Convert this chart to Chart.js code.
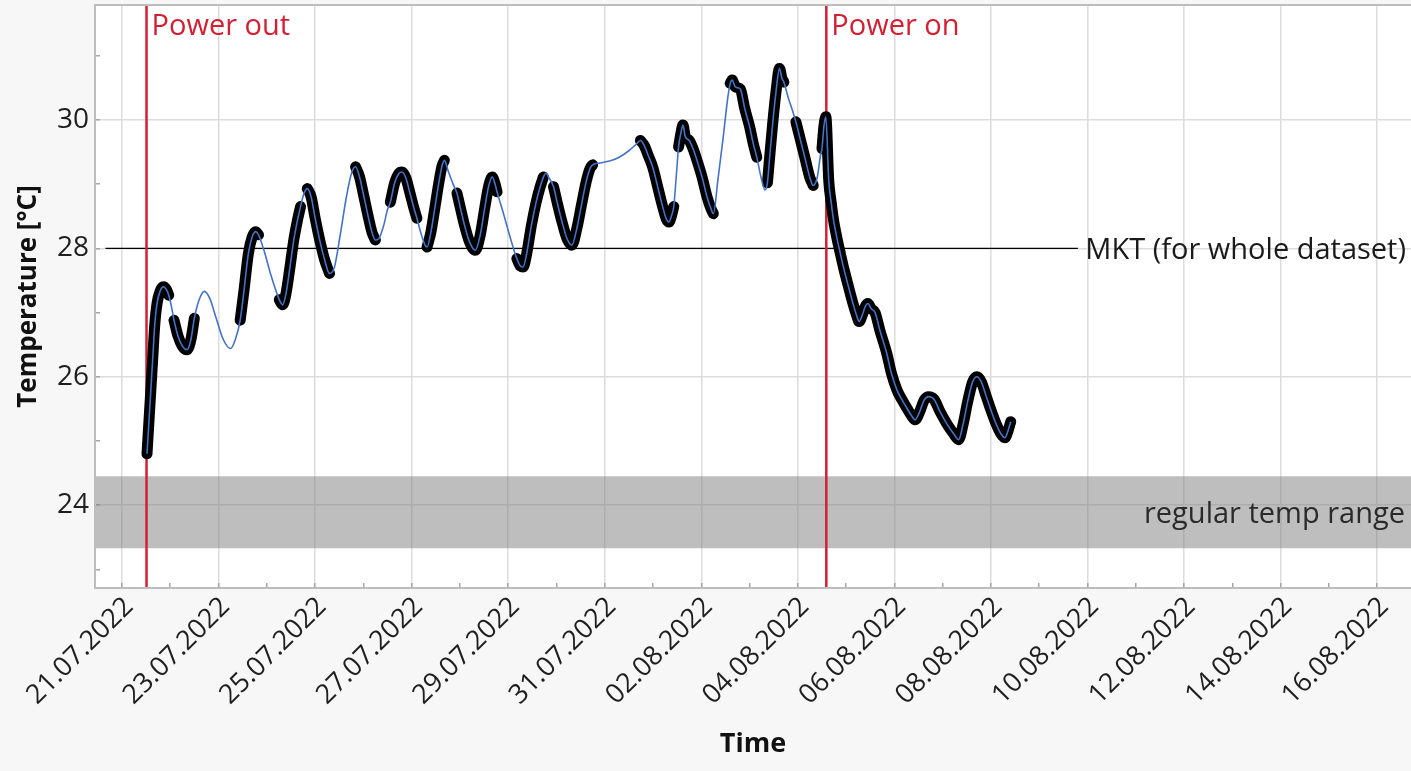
<!DOCTYPE html>
<html><head><meta charset="utf-8">
<script src="https://cdn.jsdelivr.net/npm/chart.js@4.4.0/dist/chart.umd.min.js"></script>
<style>html,body{margin:0;padding:0;background:#f7f7f7;overflow:hidden}</style>
</head><body>
<canvas id="c" width="1411" height="771"></canvas>
<script>
// x values: days since 21.07.2022 00:00
const tickDates = ['21.07.2022','23.07.2022','25.07.2022','27.07.2022','29.07.2022','31.07.2022','02.08.2022',
  '04.08.2022','06.08.2022','08.08.2022','10.08.2022','12.08.2022','14.08.2022','16.08.2022'];
const yTickValues = [24, 26, 28, 30];

const timeDays = [
  0.52,0.56,0.60,0.64,0.68,0.73,0.79,0.86,0.92,0.97,
  1.03,1.08,1.16,1.25,1.35,1.43,1.50,1.60,1.71,1.82,
  1.95,2.10,2.25,2.35,2.45,2.53,2.62,2.70,2.77,2.83,
  2.95,3.08,3.20,3.26,3.33,3.40,3.48,3.56,3.64,3.70,
  3.77,3.84,3.92,4.00,4.10,4.20,4.30,4.40,4.52,4.65,
  4.76,4.84,4.92,5.00,5.10,5.18,5.25,5.32,5.42,5.50,
  5.56,5.65,5.74,5.80,5.88,5.97,6.05,6.11,6.20,6.28,
  6.32,6.40,6.48,6.56,6.63,6.68,6.76,6.86,6.94,7.02,
  7.10,7.20,7.32,7.42,7.52,7.60,7.67,7.73,7.77,7.90,
  8.05,8.18,8.26,8.31,8.38,8.48,8.58,8.66,8.73,8.78,
  8.86,8.94,9.02,9.12,9.22,9.32,9.42,9.52,9.62,9.70,
  9.75,9.90,10.10,10.30,10.50,10.65,10.74,10.82,10.90,11.00,
  11.10,11.20,11.28,11.33,11.38,11.43,11.48,11.53,11.58,11.62,
  11.67,11.75,11.83,11.92,12.02,12.12,12.20,12.25,12.35,12.45,
  12.55,12.60,12.64,12.70,12.76,12.81,12.90,13.00,13.08,13.15,
  13.24,13.32,13.37,13.42,13.48,13.55,13.62,13.67,13.71,13.80,
  13.90,13.96,14.05,14.15,14.25,14.32,14.40,14.47,14.50,14.54,
  14.58,14.64,14.69,14.74,14.81,14.88,14.96,15.05,15.15,15.22,
  15.27,15.33,15.40,15.45,15.52,15.60,15.70,15.84,15.94,16.05,
  16.15,16.26,16.35,16.43,16.52,16.62,16.71,16.82,16.95,17.10,
  17.22,17.33,17.42,17.52,17.62,17.71,17.80,17.90,18.00,18.10,
  18.20,18.29,18.35,18.41
];
const tempC = [
  24.80,25.30,25.80,26.30,26.80,27.15,27.33,27.40,27.36,27.27,
  27.08,26.88,26.64,26.48,26.42,26.58,26.91,27.20,27.33,27.22,
  26.92,26.58,26.44,26.58,26.88,27.35,27.92,28.18,28.26,28.21,
  27.95,27.60,27.32,27.20,27.12,27.30,27.70,28.13,28.45,28.65,
  28.85,28.93,28.80,28.48,28.12,27.82,27.61,27.70,28.20,28.80,
  29.18,29.27,29.12,28.85,28.50,28.25,28.13,28.15,28.35,28.60,
  28.72,29.02,29.17,29.19,29.10,28.85,28.62,28.47,28.22,28.05,
  28.02,28.25,28.62,29.00,29.28,29.37,29.20,29.00,28.86,28.60,
  28.35,28.10,27.97,28.20,28.65,28.98,29.11,29.00,28.88,28.55,
  28.15,27.84,27.72,27.71,27.90,28.35,28.72,28.95,29.11,29.17,
  29.08,28.96,28.70,28.40,28.15,28.05,28.30,28.68,29.05,29.25,
  29.30,29.33,29.36,29.42,29.52,29.62,29.68,29.60,29.45,29.25,
  28.95,28.65,28.45,28.41,28.50,28.65,29.10,29.58,29.80,29.92,
  29.74,29.68,29.55,29.35,29.10,28.80,28.62,28.54,29.10,29.70,
  30.35,30.57,30.62,30.52,30.50,30.48,30.18,29.90,29.62,29.42,
  29.10,28.91,29.02,29.45,29.95,30.45,30.80,30.65,30.59,30.35,
  30.12,29.97,29.70,29.40,29.10,28.98,29.10,29.45,29.55,29.90,
  30.05,29.06,28.72,28.44,28.16,27.92,27.66,27.40,27.12,26.95,
  26.86,26.95,27.10,27.14,27.06,27.00,26.72,26.37,26.05,25.80,
  25.65,25.51,25.40,25.33,25.45,25.64,25.69,25.65,25.45,25.25,
  25.12,25.02,25.25,25.62,25.92,26.00,25.92,25.70,25.48,25.28,
  25.12,25.05,25.15,25.30
];
// periods where the logger actually recorded (thick black)
const loggedSpans = [[0.52,0.97],[1.08,1.50],[2.45,2.83],[3.26,3.70],[3.84,4.30],[4.84,5.25],
  [5.56,6.11],[6.32,6.68],[6.94,7.77],[8.18,8.73],[8.94,9.75],[10.74,11.43],[11.53,12.25],
  [12.60,13.15],[13.37,13.71],[13.96,14.32],[14.50,18.41]];

const mktTemp = 28;
const mktSpan = [-0.34, 19.8];
const regularRange = [23.33, 24.45];
const powerOutDay = 0.51;
const powerOnDay = 14.59;
const xRange = [-0.557, 26.70];
const yRange = [22.71, 31.79];

const FONT = "'Open Sans', 'Noto Sans', sans-serif";

const fitPts = timeDays.map((t, i) => ({x: t, y: tempC[i]}));
const loggedPts = timeDays.map((t, i) => ({
  x: t,
  y: loggedSpans.some(s => t >= s[0] - 1e-6 && t <= s[1] + 1e-6) ? tempC[i] : null
}));

const decor = {
  id: 'decor',
  beforeDraw(chart) {
    const {ctx, chartArea: a} = chart;
    ctx.save();
    ctx.fillStyle = '#f7f7f7';
    ctx.fillRect(0, 0, chart.width, chart.height);
    ctx.fillStyle = '#ffffff';
    ctx.fillRect(a.left, a.top, a.right - a.left, a.bottom - a.top);
    ctx.restore();
  },
  afterDatasetsDraw(chart) {
    const {ctx, chartArea: a, scales: {x, y}} = chart;
    ctx.save();
    ctx.font = "29px " + FONT;
    ctx.textBaseline = 'alphabetic';
    ctx.fillStyle = '#d21f32';
    ctx.textAlign = 'left';
    ctx.fillText('Power out', x.getPixelForValue(powerOutDay) + 5, a.top + 30);
    ctx.fillText('Power on', x.getPixelForValue(powerOnDay) + 5, a.top + 30);
    ctx.fillStyle = '#1a1a1a';
    ctx.textAlign = 'right';
    ctx.fillText('MKT (for whole dataset)', a.right - 5, y.getPixelForValue(mktTemp) + 11);
    ctx.fillStyle = '#2a2a2a';
    ctx.fillText('regular temp range', a.right - 6, y.getPixelForValue(24) + 18);
    ctx.restore();
  },
  afterDraw(chart) {
    const {ctx, chartArea: a} = chart;
    ctx.save();
    ctx.strokeStyle = '#bdbdbd';
    ctx.lineWidth = 2;
    ctx.strokeRect(a.left, a.top, a.right - a.left + 5, a.bottom - a.top);
    ctx.restore();
  }
};

new Chart(document.getElementById('c'), {
  type: 'line',
  data: {
    datasets: [
      {label: 'fit', data: fitPts, borderColor: '#4472c4', borderWidth: 1.6, pointRadius: 0,
        cubicInterpolationMode: 'monotone', spanGaps: true, order: 0},
      {label: 'logged', data: loggedPts, borderColor: '#000000', borderWidth: 11, pointRadius: 0,
        cubicInterpolationMode: 'monotone', spanGaps: false, borderCapStyle: 'round',
        borderJoinStyle: 'round', order: 1},
      {label: 'power out', data: [{x: powerOutDay, y: yRange[0]}, {x: powerOutDay, y: yRange[1]}],
        borderColor: '#d21f32', borderWidth: 2.5, pointRadius: 0, order: 2},
      {label: 'power on', data: [{x: powerOnDay, y: yRange[0]}, {x: powerOnDay, y: yRange[1]}],
        borderColor: '#d21f32', borderWidth: 2.5, pointRadius: 0, order: 2},
      {label: 'MKT', data: [{x: mktSpan[0], y: mktTemp}, {x: mktSpan[1], y: mktTemp}],
        borderColor: '#000000', borderWidth: 1.3, pointRadius: 0, order: 3},
      {label: 'band low', data: [{x: xRange[0] - 1, y: regularRange[0]}, {x: xRange[1] + 1, y: regularRange[0]}],
        borderWidth: 0, borderColor: 'rgba(0,0,0,0)', pointRadius: 0, order: 5},
      {label: 'band high', data: [{x: xRange[0] - 1, y: regularRange[1]}, {x: xRange[1] + 1, y: regularRange[1]}],
        borderWidth: 0, borderColor: 'rgba(0,0,0,0)', pointRadius: 0, fill: '-1',
        backgroundColor: 'rgba(125,125,125,0.5)', order: 4}
    ]
  },
  options: {
    responsive: false,
    animation: false,
    devicePixelRatio: 1,
    layout: {padding: {top: 5, left: 0, right: 0, bottom: 0}},
    plugins: {legend: {display: false}, tooltip: {enabled: false}},
    scales: {
      x: {
        type: 'linear', min: xRange[0], max: xRange[1],
        afterBuildTicks: s => { s.ticks = []; for (let d = 0; d <= 26; d++) s.ticks.push({value: d}); },
        afterFit: s => { s.height = 183; s.paddingLeft = 0; s.paddingRight = 0; },
        ticks: {
          autoSkip: false, minRotation: 45, maxRotation: 45, padding: 8, labelOffset: 7,
          font: {family: FONT, size: 27}, color: '#1e1e1e',
          callback: v => (Math.round(v) % 2 === 0 ? tickDates[Math.round(v) / 2] : '')
        },
        grid: {
          color: c => (c.tick && Math.round(c.tick.value) % 2 === 0 ? '#dcdcdc' : 'rgba(0,0,0,0)'),
          lineWidth: 1.5, tickLength: -5, tickColor: '#a6a6a6', tickWidth: 1.5
        },
        border: {display: false},
        title: {display: true, text: 'Time', color: '#111', font: {family: FONT, size: 27, weight: 'bold'},
          padding: {top: 0, bottom: 10}}
      },
      y: {
        type: 'linear', min: yRange[0], max: yRange[1],
        afterBuildTicks: s => { s.ticks = []; for (let k = 46; k <= 63; k++) s.ticks.push({value: k / 2}); },
        afterFit: s => { s.width = 95; s.paddingTop = 0; s.paddingBottom = 0; },
        ticks: {
          padding: 11, font: {family: FONT, size: 28}, color: '#1e1e1e',
          callback: v => (yTickValues.includes(v) ? String(v) : '')
        },
        grid: {
          color: c => (c.tick && yTickValues.includes(c.tick.value) ? '#dcdcdc' : 'rgba(0,0,0,0)'),
          lineWidth: 1.5, tickLength: -5, tickColor: '#a6a6a6', tickWidth: 1.5
        },
        border: {display: false},
        title: {display: true, text: 'Temperature [°C]', color: '#111', font: {family: FONT, size: 26, weight: 'bold'},
          padding: {top: 13, bottom: 0}}
      }
    }
  },
  plugins: [decor]
});
</script>
</body></html>
